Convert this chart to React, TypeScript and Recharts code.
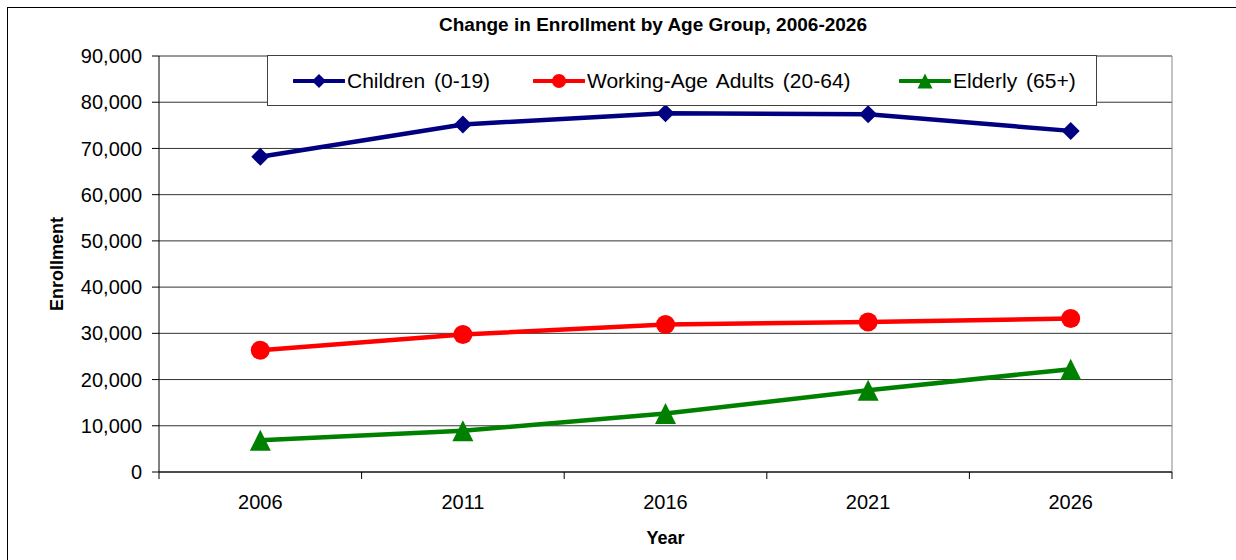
import React from "react";
import {
  LineChart,
  Line,
  XAxis,
  YAxis,
  CartesianGrid,
  Legend,
} from "recharts";

const years = ["2006", "2011", "2016", "2021", "2026"];
const children = [68200, 75200, 77600, 77400, 73800];
const workingAge = [26350, 29750, 31900, 32450, 33200];
const elderly = [6850, 8900, 12650, 17700, 22250];
const yTicks = [0, 10000, 20000, 30000, 40000, 50000, 60000, 70000, 80000, 90000];

const series = [
  { key: "children", name: "Children (0-19)", color: "#000080", shape: "diamond" },
  { key: "working", name: "Working-Age Adults (20-64)", color: "#FF0000", shape: "circle" },
  { key: "elderly", name: "Elderly (65+)", color: "#008000", shape: "triangle" },
];

const data = years.map((year, i) => ({
  year,
  children: children[i],
  working: workingAge[i],
  elderly: elderly[i],
}));

const FONT = '"Liberation Sans", Arial, sans-serif';
const W = 1236;
const H = 560;
const MARGIN = { top: 56, right: 64, bottom: 18, left: 0 };
const Y_AXIS_W = 159;
const X_AXIS_H = 70;
const PLOT_W = W - MARGIN.left - MARGIN.right - Y_AXIS_W;
// left edge of each legend entry inside the legend box
const LEGEND_X = [25, 265, 631];

function Marker({ shape, cx, cy, size, color }: any) {
  const s = size / 2;
  if (shape === "diamond") {
    return (
      <polygon
        points={`${cx},${cy - s} ${cx + s},${cy} ${cx},${cy + s} ${cx - s},${cy}`}
        fill={color}
      />
    );
  }
  if (shape === "triangle") {
    return (
      <polygon
        points={`${cx},${cy - s} ${cx + s},${cy + s} ${cx - s},${cy + s}`}
        fill={color}
      />
    );
  }
  return <circle cx={cx} cy={cy} r={s} fill={color} />;
}

const markerSize: Record<string, number> = { diamond: 18, circle: 19, triangle: 21 };

function makeDot(shape: string, color: string) {
  return (p: any) => {
    if (p.cx == null || p.cy == null) return <g key={p.key} />;
    return (
      <g key={p.key}>
        <Marker shape={shape} cx={p.cx} cy={p.cy} size={markerSize[shape]} color={color} />
      </g>
    );
  };
}

function YearTick(props: any) {
  const { x, y, payload, index } = props;
  const bw = PLOT_W / years.length;
  return (
    <g>
      <line x1={x - bw / 2} x2={x - bw / 2} y1={y} y2={y + 7} stroke="#000" />
      {index === years.length - 1 && (
        <line x1={x + bw / 2} x2={x + bw / 2} y1={y} y2={y + 7} stroke="#000" />
      )}
      <text x={x} y={y + 37} textAnchor="middle" fontSize={20} fill="#000" fontFamily={FONT}>
        {payload.value}
      </text>
    </g>
  );
}

function LegendBox() {
  return (
    <div
      style={{
        position: "relative",
        boxSizing: "border-box",
        width: 830,
        height: 51,
        border: "1px solid #404040",
        background: "#fff",
        fontFamily: FONT,
        fontSize: 21,
        color: "#000",
      }}
    >
      {series.map((s, i) => (
        <div
          key={s.key}
          style={{
            position: "absolute",
            left: LEGEND_X[i],
            top: 0,
            height: 49,
            display: "flex",
            alignItems: "center",
          }}
        >
          <svg width={52} height={20} style={{ marginRight: 2 }}>
            <line x1={1} x2={51} y1={10} y2={10} stroke={s.color} strokeWidth={4} strokeLinecap="round" />
            <Marker shape={s.shape} cx={26} cy={10} size={s.shape === "triangle" ? 15 : 14} color={s.color} />
          </svg>
          <span style={{ whiteSpace: "nowrap", wordSpacing: 3 }}>{s.name}</span>
        </div>
      ))}
    </div>
  );
}

export default function App() {
  return (
    <div
      style={{
        position: "absolute",
        left: 0,
        top: 0,
        width: W,
        height: H,
        overflow: "hidden",
        background: "#fff",
        fontFamily: FONT,
      }}
    >
      <div
        style={{
          position: "absolute",
          left: 7,
          top: 7,
          width: 1300,
          height: 700,
          border: "1px solid #000",
        }}
      />
      <div
        style={{
          position: "absolute",
          left: 653,
          top: 14,
          transform: "translateX(-50%)",
          whiteSpace: "nowrap",
          fontWeight: "bold",
          fontSize: 19,
          color: "#000",
        }}
      >
        Change in Enrollment by Age Group, 2006-2026
      </div>
      <LineChart width={W} height={H} data={data} margin={MARGIN}>
        <CartesianGrid horizontal vertical={false} stroke="#333" />
        <CartesianGrid horizontal={false} verticalPoints={[W - MARGIN.right]} stroke="#888" />
        <XAxis
          dataKey="year"
          scale="band"
          height={X_AXIS_H}
          axisLine={{ stroke: "#000" }}
          tickLine={false}
          tickSize={0}
          tickMargin={0}
          tick={<YearTick />}
          interval={0}
          label={{
            content: (p: any) => {
              const vb = p.viewBox || {};
              return (
                <text
                  x={vb.x + vb.width / 2}
                  y={544}
                  textAnchor="middle"
                  fontWeight="bold"
                  fontSize={18}
                  fontFamily={FONT}
                  fill="#000"
                >
                  Year
                </text>
              );
            },
          }}
        />
        <YAxis
          width={Y_AXIS_W}
          domain={[0, 90000]}
          ticks={yTicks}
          interval={0}
          tickFormatter={(v: number) => v.toLocaleString("en-US")}
          axisLine={{ stroke: "#000" }}
          tickLine={{ stroke: "#000" }}
          tickSize={7}
          tickMargin={10}
          tick={{ fontSize: 20, fill: "#000", fontFamily: FONT }}
          label={{
            content: (p: any) => {
              const vb = p.viewBox || {};
              const cy = vb.y + vb.height / 2;
              return (
                <text
                  x={63}
                  y={cy}
                  transform={`rotate(-90, 63, ${cy})`}
                  textAnchor="middle"
                  fontWeight="bold"
                  fontSize={18}
                  fontFamily={FONT}
                  fill="#000"
                >
                  Enrollment
                </text>
              );
            },
          }}
        />
        <Legend
          layout="horizontal"
          verticalAlign="middle"
          align="center"
          content={() => <LegendBox />}
          wrapperStyle={{ left: 267, top: 55, width: 830, height: 51 }}
        />
        {series.map((s) => (
          <Line
            key={s.key}
            type="linear"
            dataKey={s.key}
            name={s.name}
            stroke={s.color}
            strokeWidth={4.5}
            dot={makeDot(s.shape, s.color)}
            activeDot={false}
            isAnimationActive={false}
          />
        ))}
      </LineChart>
    </div>
  );
}
